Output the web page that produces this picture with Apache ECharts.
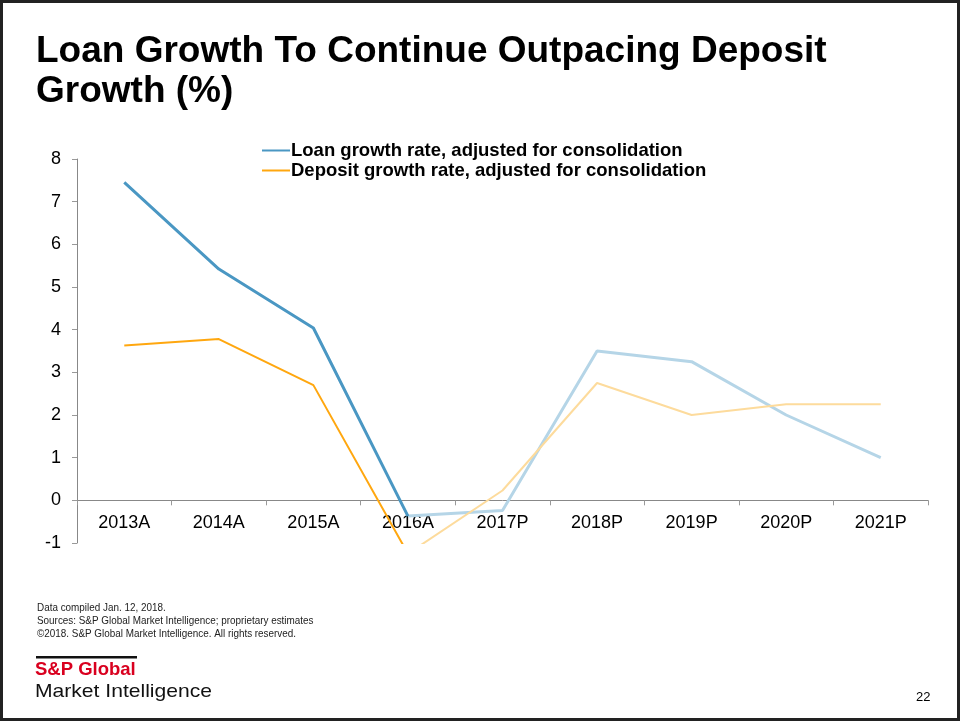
<!DOCTYPE html>
<html>
<head>
<meta charset="utf-8">
<script src="https://cdn.jsdelivr.net/npm/echarts@6/dist/echarts.min.js"></script>
<style>
  html, body { margin: 0; padding: 0; background: #fff; }
  #chart { width: 960px; height: 721px; }
</style>
</head>
<body>
<div id="chart"></div>
<script>
// Categories: actual years (A) and projections (P)
const categories = ['2013A', '2014A', '2015A', '2016A', '2017P', '2018P', '2019P', '2020P', '2021P'];

// Growth rates, %
const loanGrowth    = [7.45, 5.42, 4.04, -0.37, -0.24, 3.5, 3.25, 2.0, 1.0];
const depositGrowth = [3.63, 3.78, 2.7, -1.25, 0.23, 2.75, 2.0, 2.25, 2.25];

// Index of the last actual year; later points are projections
const lastActual = 3;

const yTicks = { min: -1, max: 8, step: 1 };

const loanName = 'Loan growth rate, adjusted for consolidation';
const depositName = 'Deposit growth rate, adjusted for consolidation';

function actualPart(arr) {
  return arr.map((v, i) => (i <= lastActual ? v : null));
}
function projectedPart(arr) {
  return arr.map((v, i) => (i >= lastActual ? v : null));
}

const chart = echarts.init(document.getElementById('chart'), null, { renderer: 'canvas' });

const font = 'Arial, "Liberation Sans", Helvetica, sans-serif';

chart.setOption({
  backgroundColor: '#ffffff',
  animation: false,
  textStyle: { fontFamily: font },
  title: {
    text: 'Loan Growth To Continue Outpacing Deposit\nGrowth (%)',
    left: 31,
    top: 27,
    textStyle: {
      fontFamily: font,
      fontSize: 37,
      fontWeight: 'bold',
      color: '#000',
      lineHeight: 40
    }
  },
  legend: {
    data: [loanName, depositName],
    orient: 'vertical',
    left: 257,
    top: 136,
    itemWidth: 28,
    itemHeight: 2,
    itemGap: 1,
    icon: 'rect',
    textStyle: { fontFamily: font, fontSize: 18.5, fontWeight: 'bold', color: '#000', padding: [0, 0, 0, -4] },
    selectedMode: false
  },
  grid: { left: 77, right: 32, top: 159, bottom: 178, containLabel: false },
  xAxis: {
    type: 'category',
    data: categories,
    boundaryGap: true,
    axisLine: { onZero: true, lineStyle: { color: '#888', width: 1 } },
    axisTick: { show: true, length: 5, lineStyle: { color: '#999' } },
    // labels sit just under the zero line
    axisLabel: { fontFamily: font, fontSize: 18, color: '#000', margin: -29 },
    splitLine: { show: false }
  },
  yAxis: {
    type: 'value',
    min: yTicks.min,
    max: yTicks.max,
    interval: yTicks.step,
    axisLine: { show: true, lineStyle: { color: '#888', width: 1 } },
    axisTick: { show: true, length: 5, lineStyle: { color: '#999' } },
    axisLabel: { fontFamily: font, fontSize: 18, color: '#000', margin: 16 },
    splitLine: { show: false }
  },
  series: [
    {
      name: loanName,
      type: 'line',
      data: actualPart(loanGrowth),
      showSymbol: false,
      symbol: 'none',
      clip: true,
      color: '#4a97c3',
      lineStyle: { color: '#4a97c3', width: 3 },
      z: 3
    },
    {
      name: 'loan-projected',
      type: 'line',
      data: projectedPart(loanGrowth),
      showSymbol: false,
      symbol: 'none',
      clip: true,
      lineStyle: { color: '#b5d5e7', width: 3 },
      z: 2
    },
    {
      name: depositName,
      type: 'line',
      data: actualPart(depositGrowth),
      showSymbol: false,
      symbol: 'none',
      clip: true,
      color: '#ffa70f',
      lineStyle: { color: '#ffa70f', width: 2 },
      z: 3
    },
    {
      name: 'deposit-projected',
      type: 'line',
      data: projectedPart(depositGrowth),
      showSymbol: false,
      symbol: 'none',
      clip: true,
      lineStyle: { color: '#fddb9c', width: 2 },
      z: 2
    }
  ],
  graphic: [
    // slide frame
    {
      type: 'rect',
      shape: { x: 1.5, y: 1.5, width: 957, height: 718 },
      style: { fill: 'none', stroke: '#222', lineWidth: 3 },
      silent: true
    },
    // source notes (condensed)
    {
      type: 'text',
      x: 37, y: 601,
      scaleX: 0.86,
      style: {
        text: 'Data compiled Jan. 12, 2018.\nSources: S&P Global Market Intelligence; proprietary estimates\n\u00A92018. S&P Global Market Intelligence. All rights reserved.',
        font: '11.5px ' + font,
        fill: '#222',
        lineHeight: 13
      }
    },
    // brand mark
    {
      type: 'rect',
      shape: { x: 36, y: 656, width: 101, height: 2.5 },
      style: { fill: '#111' }
    },
    {
      type: 'text',
      x: 35, y: 660,
      style: { text: 'S&P Global', font: 'bold 18.5px ' + font, fill: '#d9001f' }
    },
    {
      type: 'text',
      x: 35, y: 682,
      scaleX: 1.11,
      style: { text: 'Market Intelligence', font: '19px ' + font, fill: '#111' }
    },
    // page number
    {
      type: 'text',
      x: 916, y: 691,
      style: { text: '22', font: '13px ' + font, fill: '#000' }
    }
  ]
});
</script>
</body>
</html>
